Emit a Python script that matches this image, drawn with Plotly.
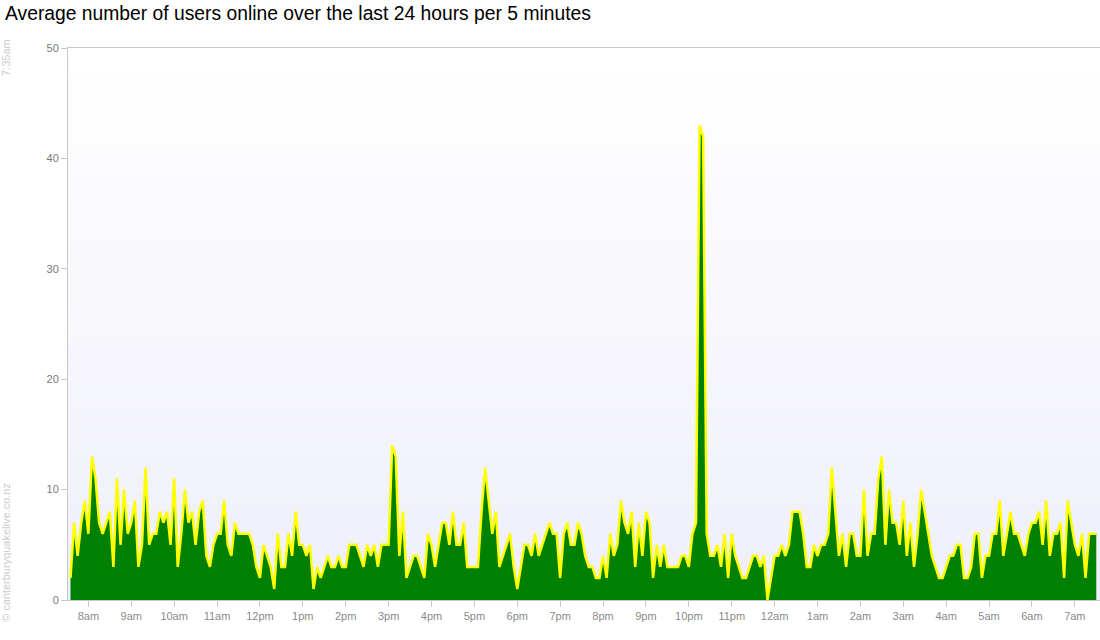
import plotly.graph_objects as go
import pandas as pd

# 5-minute averages, 7:35am -> 7:30am next day (288 samples), read in segments
users_part1 = [2, 7, 4, 7, 9, 6, 13, 11, 7, 6, 7, 8, 3, 11, 5, 10, 6, 7, 9, 3, 5, 12, 5, 6, 6, 8, 7, 8, 5, 11, 3, 6, 10, 7, 8]
users_part2 = [5, 8, 9, 4, 3, 5, 6, 6, 9, 5, 4, 7, 6, 6, 6, 6, 5, 3, 2, 5, 4, 3, 1, 6, 3, 3, 6, 4, 8, 5, 5, 4, 5, 1, 3, 2, 3]
users_part3 = [4, 3, 3, 4, 3, 3, 5, 5, 5, 4, 3, 5, 4, 5, 3, 5, 5, 5, 14, 13, 4, 8, 2, 3, 4, 4, 3, 2, 6, 5, 3, 5, 7, 7, 5, 8]
users_part4 = [5, 5, 7, 3, 3, 3, 3, 8, 12, 9, 6, 8, 3, 4, 5, 6, 3, 1, 3, 5, 5, 4, 6, 4, 5, 6, 7, 6, 6, 2, 6, 7, 5, 5, 7, 6]
users_part5 = [4, 3, 3, 2, 2, 4, 2, 6, 4, 5, 9, 7, 6, 8, 3, 7, 4, 8, 7, 2, 5, 3, 5, 3, 3, 3, 3, 4, 4, 3, 6, 7, 43, 42, 6, 4, 4]
users_part6 = [5, 3, 6, 2, 6, 4, 3, 2, 2, 3, 4, 4, 3, 4, 0, 2, 4, 4, 5, 4, 5, 8, 8, 8, 6, 3, 3, 5, 4, 5, 5, 6, 12, 8, 4, 6]
users_part7 = [3, 6, 6, 4, 4, 10, 4, 6, 6, 11, 13, 5, 10, 7, 7, 5, 9, 4, 7, 3, 6, 10, 8, 6, 4, 3, 2, 2, 3, 4, 4, 5, 5, 2, 2, 3]
users_part8 = [6, 6, 2, 4, 4, 6, 6, 9, 4, 6, 8, 6, 6, 5, 4, 6, 7, 7, 8, 5, 9, 4, 6, 6, 7, 2, 9, 7, 5, 4, 6, 2, 6, 6, 6]

start_time = "2012-01-01 07:35"
tick_hours = ["08:00", "09:00", "10:00", "11:00", "12:00", "13:00", "14:00", "15:00",
              "16:00", "17:00", "18:00", "19:00", "20:00", "21:00", "22:00", "23:00",
              "00:00", "01:00", "02:00", "03:00", "04:00", "05:00", "06:00", "07:00"]
tick_labels = ["8am", "9am", "10am", "11am", "12pm", "1pm", "2pm", "3pm", "4pm", "5pm",
               "6pm", "7pm", "8pm", "9pm", "10pm", "11pm", "12am", "1am", "2am", "3am",
               "4am", "5am", "6am", "7am"]
y_ticks = [0, 10, 20, 30, 40, 50]

users = (users_part1 + users_part2 + users_part3 + users_part4 +
         users_part5 + users_part6 + users_part7 + users_part8)
times = pd.date_range(start_time, periods=len(users), freq="5min")

tick_vals = []
for h in tick_hours:
    day = "2012-01-01" if int(h[:2]) >= 8 else "2012-01-02"
    tick_vals.append(pd.Timestamp(f"{day} {h}"))

fig = go.Figure()
fig.add_trace(go.Scatter(
    x=times, y=users, mode="lines", fill="tozeroy",
    fillcolor="#008000", line=dict(color="#ffff00", width=2.5),
    hoverinfo="skip", showlegend=False,
))

# vertical background gradient
n_bands = 40
shapes = []
for k in range(n_bands):
    f = k / (n_bands - 1)
    r = round(255 - 16 * f)
    g = round(255 - 16 * f)
    b = round(255 - 5 * f)
    shapes.append(dict(
        type="rect", xref="x domain", yref="y domain",
        x0=0, x1=1, y0=1 - (k + 1) / n_bands, y1=1 - k / n_bands,
        fillcolor=f"rgb({r},{g},{b})", line=dict(width=0), layer="below",
    ))

x_range = [times[0] - pd.Timedelta(minutes=3.5), times[-1] + pd.Timedelta(minutes=5.2)]

PW, PH = 1100, 640
ML, MT, MB, MR = 68, 48, 40, 0
plot_w = PW - ML - MR
plot_h = PH - MT - MB

fig.update_layout(
    width=PW, height=PH,
    margin=dict(l=ML, r=MR, t=MT, b=MB, autoexpand=False),
    paper_bgcolor="white", plot_bgcolor="white",
    font=dict(family="Liberation Sans, Arial, sans-serif"),
    shapes=shapes,
    hovermode=False,
    xaxis=dict(
        type="date", range=x_range,
        tickmode="array", tickvals=tick_vals, ticktext=tick_labels,
        showgrid=False, zeroline=False,
        showline=True, linecolor="#c8c8c8", linewidth=1, mirror=True,
        ticks="outside", ticklen=6, tickcolor="#c8c8c8",
        tickfont=dict(size=11, color="#8a8a8a"),
    ),
    yaxis=dict(
        range=[0, 50], tickmode="array", tickvals=y_ticks,
        showgrid=False, zeroline=False,
        showline=True, linecolor="#c8c8c8", linewidth=1, mirror=False,
        ticks="outside", ticklen=6, tickcolor="#c8c8c8",
        tickfont=dict(size=11, color="#7a7a7a"),
    ),
    annotations=[
        dict(text="Average number of users online over the last 24 hours per 5 minutes",
             xref="paper", yref="paper",
             x=(3 - ML) / plot_w, y=1 + (MT - 14) / plot_h,
             showarrow=False, xanchor="left", yanchor="middle",
             font=dict(size=19.3, color="#000000", family="Liberation Sans, Arial, sans-serif")),
        dict(text="7:35am", xref="paper", yref="paper",
             x=(6 - ML) / plot_w, y=1 - (58 - MT) / plot_h,
             textangle=-90, showarrow=False, xanchor="center", yanchor="middle",
             font=dict(size=11, color="#cccccc")),
        dict(text="© canterburyquakelive.co.nz", xref="paper", yref="paper",
             x=(6 - ML) / plot_w, y=(PH - MB - 553) / plot_h,
             textangle=-90, showarrow=False, xanchor="center", yanchor="middle",
             font=dict(size=11, color="#cccccc")),
    ],
)

# remove the browser's default 8px body margin so the figure fills the window
fig.write_html("out.html", config={"displayModeBar": False},
               post_script="document.body.style.margin='0';")
